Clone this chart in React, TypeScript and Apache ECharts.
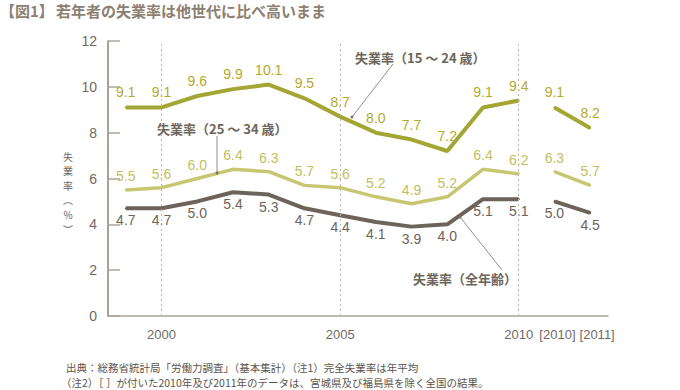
import React, { useEffect, useRef } from "react";
import * as echarts from "echarts";

const categories = ["1999", "2000", "2001", "2002", "2003", "2004", "2005", "2006", "2007", "2008", "2009", "2010", "[2010]", "[2011]"];
const shownLabels = ["2000", "2005", "2010", "[2010]", "[2011]"];
const gridYears = ["2000", "2005", "2010"];

// 15〜24歳
const youth = [9.1, 9.1, 9.6, 9.9, 10.1, 9.5, 8.7, 8.0, 7.7, 7.2, 9.1, 9.4];
const youthBracket = [9.1, 8.2];
// 25〜34歳
const young = [5.5, 5.6, 6.0, 6.4, 6.3, 5.7, 5.6, 5.2, 4.9, 5.2, 6.4, 6.2];
const youngBracket = [6.3, 5.7];
// 全年齢
const total = [4.7, 4.7, 5.0, 5.4, 5.3, 4.7, 4.4, 4.1, 3.9, 4.0, 5.1, 5.1];
const totalBracket = [5.0, 4.5];

const yTicks = { min: 0, max: 12, interval: 2 };

const title1 = "【図1】";
const title2 = "若年者の失業率は他世代に比べ高いまま";
const yName = ["失", "業", "率", "︵", "%", "︶"];
const note1 = "出典：総務省統計局「労働力調査」（基本集計）（注1）完全失業率は年平均";
const note2 = "（注2）［ ］が付いた2010年及び2011年のデータは、宮城県及び福島県を除く全国の結果。";
const label1524 = "失業率（15 ～ 24 歳）";
const label2534 = "失業率（25 ～ 34 歳）";
const labelAll = "失業率（全年齢）";

const NUM_FONT = "'Liberation Sans', Arial, 'Noto Sans CJK JP', sans-serif";
const JP_FONT = "'Noto Sans CJK JP', 'Liberation Sans', sans-serif";

const C_YOUTH = "#a4a634";
const C_YOUTH_L = "#b3aa2c";
const C_YOUNG = "#c6c770";
const C_YOUNG_L = "#c2bf5e";
const C_TOTAL = "#6c645a";
const C_ANN = "#6d655a";

function mainData(arr: number[]) {
  return [...arr, ...Array(categories.length - arr.length).fill("-")];
}
function bracketData(arr: number[]) {
  return [...Array(categories.length - arr.length).fill("-"), ...arr];
}

function lineSeries(name: string, data: any[], color: string, labelColor: string, width: number, pos: string, dist: number) {
  return {
    name,
    type: "line",
    data,
    symbol: "circle",
    symbolSize: 2,
    itemStyle: { color },
    lineStyle: { color, width },
    label: {
      show: true,
      position: pos,
      distance: dist,
      color: labelColor,
      fontSize: 14,
      fontFamily: NUM_FONT,
      formatter: (p: any) => Number(p.value).toFixed(1),
    },
    silent: true,
    z: 3,
  };
}

export default function App() {
  const ref = useRef<HTMLDivElement>(null);
  useEffect(() => {
    if (!ref.current) return;
    const chart = echarts.init(ref.current, undefined, { renderer: "svg" });
    const annLine = { stroke: "#7a7268", lineWidth: 0.8 };
    const xLabelStyle = { color: "#6f6a64", fontSize: 13, fontFamily: NUM_FONT };
    chart.setOption({
      animation: false,
      backgroundColor: "#ffffff",
      grid: { left: 108, right: 72, top: 41, bottom: 74, containLabel: false },
      xAxis: {
        type: "category",
        data: categories,
        boundaryGap: true,
        axisLine: { lineStyle: { color: "#a9a49c", width: 1.5 } },
        axisTick: { show: false },
        axisLabel: {
          interval: (_i: number, v: string) => shownLabels.includes(v),
          ...xLabelStyle,
          margin: 12,
          formatter: (v: string) => (v === "[2010]" ? `{b|${v}}` : v === "[2011]" ? `{c|${v}}` : v),
          rich: {
            b: { ...xLabelStyle, padding: [0, 0, 0, 6] },
            c: { ...xLabelStyle, padding: [0, 0, 0, 14] },
          },
        },
        splitLine: { show: false },
      },
      yAxis: {
        type: "value",
        min: yTicks.min,
        max: yTicks.max,
        interval: yTicks.interval,
        axisLine: { show: true, lineStyle: { color: "#8d8374", width: 1.5 } },
        axisTick: { show: true, inside: true, length: 12, lineStyle: { color: "#a9a49c", width: 1.5 } },
        axisLabel: { color: "#6f6a64", fontSize: 14, fontFamily: NUM_FONT, margin: 11 },
        splitLine: { show: false },
      },
      series: [
        {
          type: "line",
          data: [],
          silent: true,
          markLine: {
            silent: true,
            symbol: "none",
            label: { show: false },
            lineStyle: { color: "#b9b6b0", type: [2, 3], width: 1 },
            data: gridYears.map((y) => ({ xAxis: y })),
          },
          z: 1,
        },
        lineSeries("15〜24歳", mainData(youth), C_YOUTH, C_YOUTH_L, 4, "top", 7),
        lineSeries("15〜24歳b", bracketData(youthBracket), C_YOUTH, C_YOUTH_L, 4, "top", 7),
        lineSeries("25〜34歳", mainData(young), C_YOUNG, C_YOUNG_L, 3.5, "top", 6),
        lineSeries("25〜34歳b", bracketData(youngBracket), C_YOUNG, C_YOUNG_L, 3.5, "top", 6),
        lineSeries("全年齢", mainData(total), C_TOTAL, C_TOTAL, 4, "bottom", 4),
        lineSeries("全年齢b", bracketData(totalBracket), C_TOTAL, C_TOTAL, 4, "bottom", 4),
      ],
      graphic: [
        { type: "text", left: 0, top: 3, style: { text: title1, fill: "#8c8070", font: `bold 15px ${JP_FONT}` } },
        { type: "text", left: 56, top: 3, style: { text: title2, fill: "#8c8070", font: `bold 15px ${JP_FONT}` } },
        ...yName.map((ch, i) => ({
          type: "text",
          x: 68,
          y: 156 + i * 14.6,
          style: { text: ch, fill: C_ANN, font: `10px ${JP_FONT}`, align: "center", verticalAlign: "middle" },
        })),
        { type: "text", x: 355, y: 57, style: { text: label1524, fill: C_ANN, font: `bold 13px ${JP_FONT}`, verticalAlign: "middle" } },
        { type: "line", shape: { x1: 393, y1: 64, x2: 352, y2: 117 }, style: annLine, z: 10 },
        { type: "circle", shape: { cx: 352, cy: 117, r: 1.5 }, style: { fill: "#7a7268" }, z: 10 },
        { type: "text", x: 157, y: 128, style: { text: label2534, fill: C_ANN, font: `bold 13px ${JP_FONT}`, verticalAlign: "middle" } },
        { type: "line", shape: { x1: 217, y1: 136, x2: 217, y2: 173 }, style: annLine, z: 10 },
        { type: "circle", shape: { cx: 217, cy: 173, r: 1.5 }, style: { fill: "#7a7268" }, z: 10 },
        { type: "text", x: 413, y: 278, style: { text: labelAll, fill: C_ANN, font: `bold 13px ${JP_FONT}`, verticalAlign: "middle" } },
        { type: "line", shape: { x1: 502, y1: 270, x2: 460, y2: 217 }, style: annLine, z: 10 },
        { type: "circle", shape: { cx: 460, cy: 217, r: 1.5 }, style: { fill: "#7a7268" }, z: 10 },
        { type: "text", x: 66, y: 367, style: { text: note1, fill: "#5a544c", font: `10.5px ${JP_FONT}`, verticalAlign: "middle" } },
        { type: "text", x: 61, y: 382.5, style: { text: note2, fill: "#5a544c", font: `10.5px ${JP_FONT}`, verticalAlign: "middle" } },
      ],
    });
    return () => chart.dispose();
  }, []);
  return <div ref={ref} style={{ position: "absolute", left: 0, top: 0, width: 680, height: 390 }} />;
}
